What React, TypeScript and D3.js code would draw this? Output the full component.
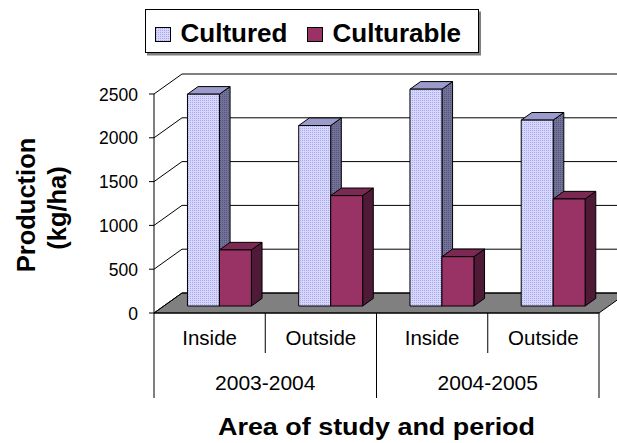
import React from 'react';
import * as d3 from 'd3';

const W = 617;
const H = 443;
const FONT = 'Arial, "Liberation Sans", Helvetica, sans-serif';

// data
const periods = ['2003-2004', '2004-2005'];
const areas = ['Inside', 'Outside'];
const categories = ['2003-2004|Inside', '2003-2004|Outside', '2004-2005|Inside', '2004-2005|Outside'];
const series = ['Cultured', 'Culturable'];
const cultured = [2418, 2060, 2475, 2122];
const culturable = [640, 1260, 563, 1222];
const yTicks = [0, 500, 1000, 1500, 2000, 2500];

// plot frame (front plane) and 3d depth
const left = 154;
const right = 599;
const bottom = 313;
const top = 94;
const depth = { dx: 28, dy: -20 };
const barFront = 0.35;
const barBack = 0.73;

const faces = {
  Cultured: { front: 'url(#hatchFront)', side: 'url(#hatchSide)', top: '#9c9ccc' },
  Culturable: { front: '#993366', side: '#4f1a36', top: '#7a2952' },
};

export default function App() {
  const y = d3.scaleLinear().domain([0, 2500]).range([bottom, top]);
  const x = d3.scaleBand().domain(categories).range([left, right]).padding(0);
  const xs = d3.scaleBand().domain(series).range([0, x.bandwidth()]).paddingInner(0).paddingOuter(0.74);

  const off = (f: number) => [depth.dx * f, depth.dy * f];
  const [fx, fy] = off(barFront);
  const [bx, by] = off(barBack);
  const bdx = bx - fx;
  const bdy = by - fy;
  const [wx, wy] = off(1);

  const pts = (p: number[][]) => p.map((q) => q.join(',')).join(' ');

  const bars: React.ReactNode[] = [];
  categories.forEach((c, i) => {
    series.forEach((s) => {
      const v = s === 'Cultured' ? cultured[i] : culturable[i];
      const x0 = (x(c) as number) + (xs(s) as number) + fx;
      const x1 = x0 + xs.bandwidth();
      const y0 = y(0) + fy;
      const y1 = y(v) + fy;
      const f = faces[s as 'Cultured' | 'Culturable'];
      bars.push(
        <g key={c + s} stroke="#000" strokeWidth={1} strokeLinejoin="round">
          <polygon points={pts([[x1, y0], [x1 + bdx, y0 + bdy], [x1 + bdx, y1 + bdy], [x1, y1]])} fill={f.side} />
          <polygon points={pts([[x0, y1], [x1, y1], [x1 + bdx, y1 + bdy], [x0 + bdx, y1 + bdy]])} fill={f.top} />
          <rect x={x0} y={y1} width={x1 - x0} height={y0 - y1} fill={f.front} />
        </g>
      );
    });
  });

  const periodSpan = (p: string) => {
    const cs = categories.filter((c) => c.startsWith(p));
    const a = x(cs[0]) as number;
    const b = (x(cs[cs.length - 1]) as number) + x.bandwidth();
    return [a, b];
  };

  return (
    <div style={{ position: 'absolute', left: 0, top: 0 }}>
      <svg width={W} height={H} style={{ display: 'block', background: '#fff', fontFamily: FONT }}>
        <defs>
          <pattern id="hatchFront" width={2} height={2} patternUnits="userSpaceOnUse">
            <rect width={2} height={2} fill="#d6d6ff" />
            <rect width={1} height={1} fill="#a9a9e6" />
          </pattern>
          <pattern id="hatchSide" width={2} height={2} patternUnits="userSpaceOnUse">
            <rect width={2} height={2} fill="#727299" />
            <rect width={1} height={1} fill="#55557a" />
          </pattern>
          <clipPath id="clip">
            <rect x={0} y={0} width={W} height={H} />
          </clipPath>
        </defs>

        <g clipPath="url(#clip)">
          {/* floor */}
          <polygon
            points={pts([[left, bottom], [right, bottom], [right + wx, bottom + wy], [left + wx, bottom + wy]])}
            fill="#808080"
            stroke="#000"
            strokeWidth={1}
          />
          {/* back wall gridlines and side wall diagonals */}
          {yTicks.map((t) => (
            <g key={t} stroke="#000" strokeWidth={1}>
              <line x1={left} y1={y(t)} x2={left + wx} y2={y(t) + wy} />
              <line x1={left + wx} y1={y(t) + wy} x2={right + wx} y2={y(t) + wy} />
            </g>
          ))}
          {bars}
        </g>

        {/* value axis */}
        <line x1={left} y1={top} x2={left} y2={398} stroke="#000" />
        {yTicks.map((t) => (
          <g key={t}>
            <line x1={left - 5} x2={left} y1={y(t)} y2={y(t)} stroke="#000" />
            <text x={138} y={y(t) + 6.5} textAnchor="end" fontSize={17.5} fill="#000">
              {t}
            </text>
          </g>
        ))}

        {/* category axis */}
        <line x1={left} y1={bottom} x2={right} y2={bottom} stroke="#000" />
        {categories.map((c, i) => {
          const area = c.split('|')[1];
          const cx = (x(c) as number) + x.bandwidth() / 2;
          return (
            <g key={c}>
              {i > 0 && i % areas.length !== 0 && (
                <line x1={x(c)} x2={x(c)} y1={bottom} y2={353} stroke="#000" />
              )}
              <text x={cx} y={344.5} textAnchor="middle" fontSize={20.5} fill="#000">
                {area}
              </text>
            </g>
          );
        })}
        {periods.map((p) => {
          const [a, b] = periodSpan(p);
          return (
            <g key={p}>
              <line x1={b} x2={b} y1={bottom} y2={398} stroke="#000" />
              <text x={(a + b) / 2} y={390} textAnchor="middle" fontSize={21} fill="#000">
                {p}
              </text>
            </g>
          );
        })}

        {/* axis titles */}
        <text
          x={(left + right) / 2}
          y={435}
          textAnchor="middle"
          fontSize={23}
          fontWeight="bold"
          textLength={317}
          lengthAdjust="spacingAndGlyphs"
        >
          Area of study and period
        </text>
        <g transform="translate(35,205) rotate(-90)">
          <text x={0} y={0} textAnchor="middle" fontSize={25.5} fontWeight="bold">
            Production
          </text>
        </g>
        <g transform="translate(66,208) rotate(-90)">
          <text x={0} y={0} textAnchor="middle" fontSize={25.5} fontWeight="bold">
            (kg/ha)
          </text>
        </g>

        {/* legend */}
        <rect x={147} y={11.5} width={334} height={44} fill="#808080" />
        <rect x={145.5} y={9.5} width={333} height={43} fill="#fff" stroke="#000" />
        {series.map((s, i) => {
          const lx = i === 0 ? 155 : 307;
          const f = faces[s as 'Cultured' | 'Culturable'];
          return (
            <g key={s}>
              <rect x={lx + 0.5} y={27.5} width={15} height={14} fill={f.front} stroke="#000" />
              <text x={lx + 25.5} y={41.5} fontSize={26} fontWeight="bold">
                {s}
              </text>
            </g>
          );
        })}
      </svg>
    </div>
  );
}
